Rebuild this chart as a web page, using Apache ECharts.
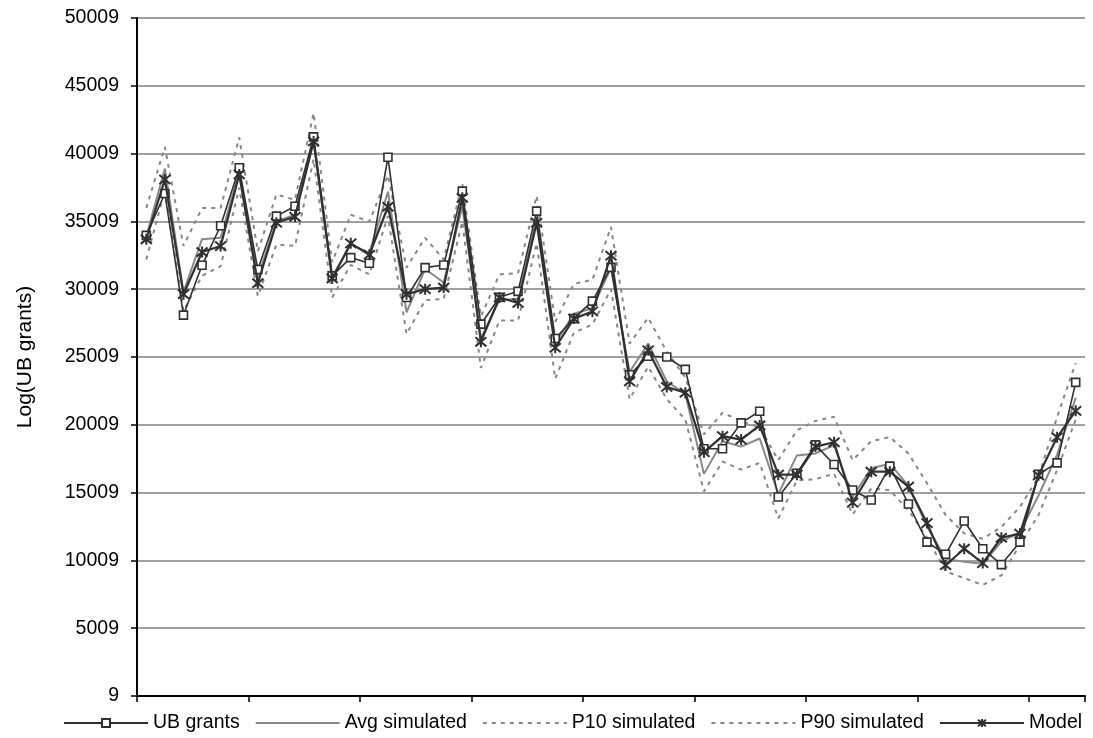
<!DOCTYPE html>
<html>
<head>
<meta charset="utf-8">
<title>Log(UB grants)</title>
<script src="https://cdn.jsdelivr.net/npm/echarts@6/dist/echarts.min.js"></script>
<style>
  html, body { margin: 0; padding: 0; background: #fff; }
  #chart { width: 1093px; height: 738px; }
</style>
</head>
<body>
<div id="chart"></div>
<script>
// Period index along the horizontal axis (51 observations)
const periods = Array.from({ length: 51 }, (_, i) => String(i + 1));

const ubGrants = [
  33980, 37070, 28100, 31770, 34690, 38960, 31460, 35400, 36130, 41240,
  30990, 32340, 31920, 39740, 29400, 31600, 31790, 37240, 27430, 29410,
  29850, 35770, 26370, 27840, 29130, 31620, 23700, 25060, 25010, 24100,
  18240, 18240, 20150, 21010, 14680, 16440, 18530, 17080, 15200, 14460,
  16960, 14170, 11360, 10460, 12910, 10870, 9700, 11360, 16360, 17200,
  23140
];

const avgSimulated = [
  33900, 38900, 29800, 33700, 33800, 38700, 30900, 35000, 35500, 41000,
  30900, 33300, 32700, 37200, 28300, 31500, 30500, 36100, 26400, 29200,
  29300, 35200, 26000, 28200, 28600, 31600, 23900, 26000, 23200, 22300,
  16390, 18800, 18400, 19000, 14900, 17750, 17900, 18500, 14700, 16800,
  17140, 15500, 12500, 10140, 9900, 9760, 11400, 12100, 14800, 17800,
  22000
];

const p10Simulated = [
  32200, 37300, 28400, 31000, 31700, 37500, 29500, 33300, 33200, 39600,
  29400, 31800, 31100, 35400, 26700, 29200, 29300, 35000, 24200, 27700,
  27700, 33400, 23400, 26800, 27400, 30000, 21900, 24300, 21900, 20400,
  15100, 17300, 16700, 17200, 13100, 15900, 16000, 16400, 13400, 15300,
  15200, 13700, 11700, 9200, 8700, 8200, 8900, 11150, 13360, 16680,
  20400
];

const p90Simulated = [
  36000, 40500, 33200, 36000, 36000, 41200, 32800, 37000, 36600, 43000,
  32000, 35500, 35000, 38400, 31600, 33800, 32200, 37800, 28000, 31100,
  31200, 36900, 27600, 30400, 30700, 34600, 26000, 27900, 25400, 23500,
  19300, 20900, 20300, 19800, 17400, 19600, 20300, 20600, 17400, 18800,
  19100, 17900, 15700, 13360, 12000, 11600, 12470, 13950, 16160, 20580,
  24570
];

const model = [
  33690, 38100, 29640, 32750, 33190, 38470, 30450, 34910, 35350, 40910,
  30800, 33390, 32550, 36090, 29640, 30010, 30130, 36750, 26130, 29400,
  28990, 34910, 25690, 27840, 28370, 32480, 23210, 25500, 22800, 22380,
  17990, 19170, 18920, 19960, 16330, 16330, 18400, 18720, 14270, 16550,
  16550, 15450, 12760, 9650, 10870, 9810, 11680, 11980, 16280, 19090,
  21040
];

const legendNames = ['UB grants', 'Avg simulated', 'P10 simulated', 'P90 simulated', 'Model'];

const yMin = 9;
const yMax = 50009;
const yStep = 5000;

const DARK = '#303030';
const GREY = '#888888';
const FONT = 'Liberation Sans, Arial, sans-serif';

// Asterisk marker drawn as stroked strokes
const ASTERISK = 'path://M0,0L10,10M10,0L0,10M5,-1L5,11';

const chart = echarts.init(document.getElementById('chart'), null, { renderer: 'canvas' });

// Plain lines (no marker) in the legend for the simulated series
const legendData = legendNames.map(name =>
  (name === 'UB grants' || name === 'Model')
    ? { name }
    : { name, itemStyle: { opacity: 0 } }
);

chart.setOption({
  animation: false,
  backgroundColor: '#ffffff',
  textStyle: { fontFamily: FONT, color: '#000' },
  grid: { left: 137, right: 8, top: 18, bottom: 42, containLabel: false },
  legend: {
    bottom: 0,
    left: 58,
    itemWidth: 84,
    itemHeight: 10,
    itemGap: 15,
    textStyle: { fontFamily: FONT, fontSize: 19.5, color: '#000' },
    data: legendData
  },
  xAxis: {
    type: 'category',
    data: periods,
    boundaryGap: true,
    axisLine: { lineStyle: { color: '#000', width: 2 } },
    axisTick: { show: true, interval: 5, length: 6, lineStyle: { color: '#000', width: 1.5 } },
    axisLabel: { show: false },
    splitLine: { show: false }
  },
  yAxis: {
    type: 'value',
    min: yMin,
    max: yMax,
    interval: yStep,
    name: 'Log(UB grants)',
    nameLocation: 'middle',
    nameGap: 101,
    nameTextStyle: { fontFamily: FONT, fontSize: 21, color: '#000' },
    axisLine: { show: true, lineStyle: { color: '#000', width: 2 } },
    axisTick: { show: true, length: 6, lineStyle: { color: '#000', width: 1.5 } },
    axisLabel: {
      fontFamily: FONT, fontSize: 19.5, color: '#000', margin: 18,
      formatter: v => String(v)
    },
    splitLine: { show: true, lineStyle: { color: '#a0a0a0', width: 2 } }
  },
  series: [
    {
      name: 'P10 simulated',
      type: 'line',
      data: p10Simulated,
      symbol: 'none',
      z: 1,
      lineStyle: { color: GREY, width: 2, type: [4, 5] },
      itemStyle: { color: GREY }
    },
    {
      name: 'P90 simulated',
      type: 'line',
      data: p90Simulated,
      symbol: 'none',
      z: 1,
      lineStyle: { color: GREY, width: 2, type: [4, 5] },
      itemStyle: { color: GREY }
    },
    {
      name: 'Avg simulated',
      type: 'line',
      data: avgSimulated,
      symbol: 'none',
      z: 2,
      lineStyle: { color: GREY, width: 2 },
      itemStyle: { color: GREY }
    },
    {
      name: 'UB grants',
      type: 'line',
      data: ubGrants,
      symbol: 'rect',
      symbolSize: 8,
      z: 3,
      lineStyle: { color: DARK, width: 1.6 },
      itemStyle: { color: '#ffffff', borderColor: DARK, borderWidth: 1.6 }
    },
    {
      name: 'Model',
      type: 'line',
      data: model,
      symbol: ASTERISK,
      symbolSize: 11,
      z: 4,
      lineStyle: { color: DARK, width: 2.2 },
      itemStyle: { color: DARK, borderColor: DARK, borderWidth: 2 }
    }
  ]
});
</script>
</body>
</html>
